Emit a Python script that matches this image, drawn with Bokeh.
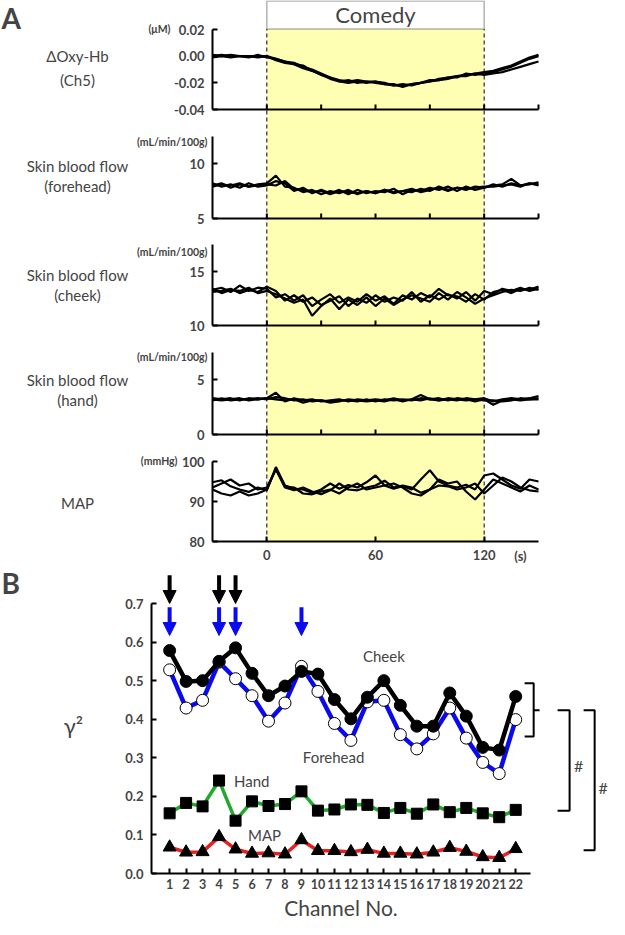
from bokeh.plotting import figure
from bokeh.models import (Range1d, LinearAxis, FixedTicker, NumeralTickFormatter,
                          BoxAnnotation, Label, Arrow, NormalHead, ColumnDataSource)
from bokeh.layouts import column
from bokeh.embed import file_html
from bokeh.resources import INLINE

# ---------------- data (panel A: time courses, 3 traces each) ----------------
time_s = list(range(-30, 151, 5))
comedy_start, comedy_end = 0, 120
time_ticks = [0, 30, 60, 90, 120, 150]
time_labels = [0, 60, 120]

oxy_hb_1 = [0.000, 0.001, 0.000, 0.000, -0.001, 0.001, -0.001, -0.002, -0.004, -0.005, -0.008, -0.010, -0.013,
            -0.016, -0.018, -0.019, -0.018, -0.019, -0.019, -0.020, -0.022, -0.022, -0.021, -0.020, -0.019,
            -0.017, -0.016, -0.015, -0.014, -0.013, -0.012, -0.011, -0.009, -0.007, -0.004, -0.001, 0.001]
oxy_hb_2 = [0.001, 0.000, 0.001, 0.000, 0.000, 0.000, 0.000, -0.003, -0.005, -0.006, -0.007, -0.011, -0.014,
            -0.017, -0.019, -0.018, -0.020, -0.019, -0.020, -0.021, -0.021, -0.023, -0.021, -0.020, -0.018,
            -0.018, -0.016, -0.016, -0.013, -0.014, -0.013, -0.012, -0.010, -0.008, -0.005, -0.002, 0.000]
oxy_hb_3 = [-0.001, 0.000, -0.001, 0.000, 0.000, -0.001, 0.000, -0.002, -0.004, -0.006, -0.009, -0.011, -0.014,
            -0.016, -0.019, -0.020, -0.019, -0.020, -0.019, -0.021, -0.022, -0.021, -0.022, -0.020, -0.019,
            -0.018, -0.017, -0.015, -0.015, -0.013, -0.014, -0.013, -0.012, -0.010, -0.008, -0.006, -0.004]

sbf_forehead_1 = [8.0, 8.2, 7.8, 8.1, 7.9, 8.1, 8.2, 8.9, 7.9, 7.8, 7.4, 7.6, 7.2, 7.5, 7.3, 7.6, 7.2, 7.5, 7.3,
                  7.6, 7.3, 7.5, 7.4, 7.7, 7.5, 7.9, 7.6, 7.8, 7.6, 7.9, 7.8, 8.0, 8.1, 8.6, 8.0, 8.2, 8.1]
sbf_forehead_2 = [8.2, 7.9, 8.1, 7.8, 8.2, 7.9, 8.0, 8.4, 8.2, 7.5, 7.8, 7.3, 7.6, 7.3, 7.6, 7.2, 7.6, 7.3, 7.5,
                  7.4, 7.7, 7.2, 7.6, 7.5, 7.8, 7.6, 7.9, 7.5, 7.9, 7.6, 7.8, 8.1, 7.9, 8.2, 8.0, 8.1, 8.3]
sbf_forehead_3 = [7.9, 8.1, 8.0, 8.2, 7.9, 8.0, 8.1, 8.0, 8.4, 7.7, 7.6, 7.4, 7.5, 7.2, 7.5, 7.4, 7.3, 7.5, 7.3,
                  7.6, 7.4, 7.5, 7.7, 7.4, 7.6, 7.8, 7.5, 7.8, 7.7, 7.8, 7.9, 7.9, 8.0, 8.1, 7.9, 8.2, 8.0]

sbf_cheek_1 = [13.3, 13.5, 13.1, 13.7, 13.2, 13.5, 13.4, 12.6, 12.9, 12.3, 12.8, 11.8, 12.4, 12.9, 12.1, 12.6,
               12.2, 12.9, 12.3, 12.7, 12.0, 12.8, 12.4, 13.0, 12.6, 13.4, 12.8, 12.7, 12.2, 12.9, 12.4, 13.1,
               13.3, 13.0, 13.4, 13.3, 13.6]
sbf_cheek_2 = [13.1, 13.2, 13.4, 13.0, 13.3, 13.1, 13.6, 13.2, 12.3, 12.8, 12.2, 12.6, 11.9, 12.3, 12.7, 11.8,
               12.5, 12.1, 12.8, 12.2, 12.6, 12.3, 13.1, 12.2, 12.8, 12.4, 12.9, 12.5, 13.1, 12.3, 13.2, 12.9,
               13.4, 13.2, 13.5, 13.2, 13.4]
sbf_cheek_3 = [13.4, 13.0, 13.3, 13.2, 13.5, 13.0, 13.2, 12.9, 12.5, 12.1, 12.4, 10.9, 11.8, 12.5, 11.5, 12.4,
               11.9, 12.6, 11.8, 12.5, 11.9, 12.4, 12.8, 12.5, 12.2, 13.0, 12.4, 13.1, 12.6, 12.0, 12.5, 12.8,
               13.1, 13.3, 13.2, 13.5, 13.3]

sbf_hand_1 = [3.3, 3.2, 3.3, 3.1, 3.3, 3.2, 3.3, 3.8, 3.0, 3.3, 3.1, 3.2, 3.0, 3.1, 3.2, 3.0, 3.2, 3.1, 3.2,
              3.1, 3.3, 3.1, 3.2, 3.6, 3.2, 3.1, 3.3, 3.2, 3.1, 3.2, 3.3, 3.0, 3.2, 3.3, 3.2, 3.3, 3.5]
sbf_hand_2 = [3.1, 3.3, 3.1, 3.2, 3.2, 3.3, 3.2, 3.4, 3.3, 3.1, 3.2, 3.0, 3.1, 3.0, 3.1, 3.1, 3.0, 3.2, 3.0,
              3.2, 3.1, 3.2, 3.1, 3.3, 3.2, 3.3, 3.1, 3.3, 3.2, 3.0, 3.2, 2.7, 3.1, 3.2, 3.1, 3.2, 3.2]
sbf_hand_3 = [3.2, 3.1, 3.2, 3.3, 3.1, 3.2, 3.3, 3.2, 3.1, 3.2, 2.9, 3.1, 3.1, 2.9, 3.0, 3.2, 3.1, 3.0, 3.1,
              3.0, 3.2, 3.0, 3.2, 3.1, 3.3, 3.1, 3.2, 3.1, 3.3, 3.2, 3.1, 3.1, 3.0, 3.1, 3.3, 3.2, 3.3]

map_1 = [94.8, 95.3, 93.8, 93.0, 92.4, 93.5, 92.8, 98.6, 94.0, 93.2, 93.0, 92.2, 93.0, 94.5, 93.2, 94.1, 93.5,
         94.8, 96.5, 94.0, 93.2, 93.8, 93.0, 95.5, 97.8, 95.0, 94.0, 93.5, 94.2, 93.0, 96.5, 97.0, 95.5, 94.0,
         93.2, 95.5, 95.0]
map_2 = [93.0, 92.0, 91.5, 92.5, 91.5, 92.0, 93.0, 98.2, 93.8, 93.5, 92.0, 91.8, 92.5, 93.0, 92.0, 93.5, 94.5,
         93.0, 93.5, 94.0, 94.5, 93.5, 92.0, 91.5, 93.0, 95.5, 94.5, 95.0, 92.5, 90.5, 93.0, 95.5, 94.5, 93.5,
         92.5, 94.0, 93.0]
map_3 = [93.5, 94.5, 95.5, 94.0, 94.5, 93.0, 93.5, 98.0, 93.5, 92.8, 93.5, 92.5, 91.8, 92.8, 94.5, 93.0, 92.8,
         93.5, 94.0, 95.2, 93.5, 94.0, 93.5, 92.2, 93.0, 94.0, 93.8, 93.0, 93.5, 94.5, 92.0, 94.0, 96.0, 95.0,
         93.5, 92.8, 92.5]

# ---------------- data (panel B: gamma^2 per channel) ----------------
channels = list(range(1, 23))
gamma_cheek = [0.578, 0.498, 0.500, 0.550, 0.585, 0.519, 0.461, 0.486, 0.524, 0.517, 0.451, 0.401, 0.457,
               0.500, 0.436, 0.382, 0.382, 0.468, 0.408, 0.327, 0.320, 0.459]
gamma_forehead = [0.528, 0.429, 0.449, 0.548, 0.505, 0.461, 0.395, 0.442, 0.537, 0.472, 0.389, 0.345, 0.445,
                  0.449, 0.360, 0.323, 0.362, 0.429, 0.351, 0.288, 0.259, 0.399]
gamma_hand = [0.156, 0.183, 0.174, 0.241, 0.137, 0.187, 0.175, 0.180, 0.213, 0.163, 0.166, 0.179, 0.178,
              0.157, 0.170, 0.155, 0.179, 0.159, 0.170, 0.156, 0.146, 0.165]
gamma_map = [0.068, 0.055, 0.056, 0.095, 0.063, 0.052, 0.053, 0.050, 0.087, 0.059, 0.059, 0.056, 0.062,
             0.052, 0.052, 0.050, 0.055, 0.067, 0.057, 0.043, 0.041, 0.064]
black_arrow_channels = [1, 4, 5]
blue_arrow_channels = [1, 4, 5, 9]
gamma_ticks = [0.0, 0.1, 0.2, 0.3, 0.4, 0.5, 0.6, 0.7]

# ---------------- layout / style ----------------
FONT = "Lato"
W = 609
A_FH = 566          # frame height of panel A (includes room for the time labels)
A_AX = 212.0        # px of t = -30
A_PPS = 326.0 / 180.0
xa0 = -30 - A_AX / A_PPS
xa1 = xa0 + W / A_PPS


def xa(px):
    return xa0 + px / A_PPS


def band(lo, hi, plo, phi):
    s = (hi - lo) / (plo - phi)
    return lo - (A_FH - plo) * s, hi + phi * s


panels = [
    dict(name="p1", lo=-0.04, hi=0.02, plo=109, phi=29, ticks=[-0.04, -0.02, 0.0, 0.02], fmt="0.00",
         traces=[oxy_hb_1, oxy_hb_2, oxy_hb_3], titles=[("\u0394Oxy-Hb", 55), ("(Ch5)", 79)],
         unit="(\u03bcM)", unit_px=(170, 28)),
    dict(name="p2", lo=5, hi=12.5, plo=218, phi=135.5, ticks=[5, 10], fmt=None,
         traces=[sbf_forehead_1, sbf_forehead_2, sbf_forehead_3],
         titles=[("Skin blood flow", 165), ("(forehead)", 185)], unit="(mL/min/100g)", unit_px=(207, 141)),
    dict(name="p3", lo=10, hi=17.5, plo=325, phi=244, ticks=[10, 15], fmt=None,
         traces=[sbf_cheek_1, sbf_cheek_2, sbf_cheek_3],
         titles=[("Skin blood flow", 274), ("(cheek)", 294)], unit="(mL/min/100g)", unit_px=(207, 251)),
    dict(name="p4", lo=0, hi=7.5, plo=434, phi=351.5, ticks=[0, 5], fmt=None,
         traces=[sbf_hand_1, sbf_hand_2, sbf_hand_3],
         titles=[("Skin blood flow", 379), ("(hand)", 399)], unit="(mL/min/100g)", unit_px=(207, 356)),
    dict(name="default", lo=80, hi=100, plo=541, phi=461, ticks=[80, 90, 100], fmt=None,
         traces=[map_1, map_2, map_3], titles=[("MAP", 502)], unit="(mmHg)", unit_px=(177, 460)),
]

p5s, p5e = band(80, 100, 541, 461)


def ya(py):
    return p5e - py * (p5e - p5s) / A_FH


pA = figure(frame_width=W, frame_height=A_FH, x_range=Range1d(xa0, xa1), y_range=Range1d(p5s, p5e),
            x_axis_location=None, y_axis_location=None, output_backend="svg", toolbar_location=None,
            min_border=0, outline_line_color=None)
pA.xgrid.visible = False
pA.ygrid.visible = False
pA.extra_y_ranges = {pp["name"]: Range1d(*band(pp["lo"], pp["hi"], pp["plo"], pp["phi"]))
                     for pp in panels if pp["name"] != "default"}

map_lo = panels[-1]["lo"]
band_top = ya(28.5)

# comedy period shading, dashed limits and the title box
pA.add_layout(BoxAnnotation(left=comedy_start, right=comedy_end, top=band_top, bottom=map_lo,
                            fill_color="#FFFFB4", fill_alpha=1.0, line_alpha=0, level="underlay"))
pA.segment(x0=[comedy_start, comedy_end], y0=[map_lo, map_lo], x1=[comedy_start, comedy_end],
           y1=[band_top, band_top], line_color="black", line_width=1, line_dash="4 3")
pA.add_layout(BoxAnnotation(left=comedy_start, right=comedy_end, top=ya(0.5), bottom=band_top,
                            fill_color="white", fill_alpha=1.0, line_color="black", line_width=1.5))
pA.add_layout(Label(x=(comedy_start + comedy_end) / 2, y=ya(14), text="Comedy", text_font=FONT,
                    text_font_size="22px", text_align="center", text_baseline="middle"))
pA.add_layout(Label(x=xa(1), y=ya(17), text="A", text_font=FONT, text_font_style="bold",
                    text_font_size="28px", text_align="left", text_baseline="middle"))

# time axis of the MAP panel (labelled)
ax5 = LinearAxis(fixed_location=map_lo, bounds=(time_s[0], time_s[-1]), ticker=FixedTicker(ticks=time_labels),
                 major_tick_in=5, major_tick_out=0, minor_tick_in=0, minor_tick_out=0, axis_line_width=2,
                 major_tick_line_width=2, major_label_text_font=FONT, major_label_text_font_style="bold",
                 major_label_text_font_size="13px", major_label_standoff=8)
pA.add_layout(ax5, "below")
pA.add_layout(Label(x=xa(520), y=ya(555), text="(s)", text_font=FONT, text_font_style="bold",
                    text_font_size="13px", text_align="center", text_baseline="middle"))

for pp in panels:
    name = pp["name"]
    for tr in pp["traces"]:
        pA.line(time_s, tr, y_range_name=name, line_color="black", line_width=2.2)
    yax = LinearAxis(y_range_name=name, fixed_location=time_s[0], bounds=(pp["lo"], pp["hi"]),
                     ticker=FixedTicker(ticks=pp["ticks"]), major_tick_in=5, major_tick_out=0,
                     minor_tick_in=0, minor_tick_out=0, axis_line_width=2, major_tick_line_width=2,
                     major_label_text_font=FONT, major_label_text_font_style="bold",
                     major_label_text_font_size="13px", major_label_standoff=8)
    if pp["fmt"]:
        yax.formatter = NumeralTickFormatter(format=pp["fmt"])
    pA.add_layout(yax, "left")
    if name != "default":
        # unlabelled time axis: base line with short inward ticks
        s = (pp["hi"] - pp["lo"]) / (pp["plo"] - pp["phi"])
        n = len(time_ticks)
        pA.segment(x0=[time_s[0]], y0=[pp["lo"]], x1=[time_s[-1]], y1=[pp["lo"]], y_range_name=name,
                   line_color="black", line_width=2)
        pA.segment(x0=time_ticks, y0=[pp["lo"]] * n, x1=time_ticks, y1=[pp["lo"] + 5 * s] * n,
                   y_range_name=name, line_color="black", line_width=2)
    for txt, py in pp["titles"]:
        pA.add_layout(Label(x=xa(77), y=ya(py), text=txt, text_font=FONT, text_font_size="15px",
                            text_align="center", text_baseline="middle"))
    ux, uy = pp["unit_px"]
    pA.add_layout(Label(x=xa(ux), y=ya(uy), text=pp["unit"], text_font=FONT, text_font_style="bold",
                        text_font_size="10.5px", text_align="right", text_baseline="middle"))

# ---------------- panel B ----------------
B_AX = 151.0
B_PPC = 16.48
B_TOP = 307        # px from frame top to gamma = 0
B_BELOW = 46       # room for channel labels and axis title
B_FH = B_TOP + B_BELOW
B_PPU = 385.7
xb0 = -0.1 - B_AX / B_PPC
xb1 = xb0 + W / B_PPC
yb1 = B_TOP / B_PPU
yb0 = -B_BELOW / B_PPU


def xb(px):
    return xb0 + px / B_PPC


def yb(py):
    return yb1 - py / B_PPU


pB = figure(frame_width=W, frame_height=B_FH, x_range=Range1d(xb0, xb1), y_range=Range1d(yb0, yb1),
            x_axis_location=None, y_axis_location=None, output_backend="svg", toolbar_location=None,
            min_border=0, outline_line_color=None)
pB.xgrid.visible = False
pB.ygrid.visible = False

bx = LinearAxis(fixed_location=0, bounds=(-0.1, 22.9), ticker=FixedTicker(ticks=channels),
                major_tick_in=5, major_tick_out=0, minor_tick_in=0, minor_tick_out=0, axis_line_width=2,
                major_tick_line_width=2, major_label_text_font=FONT, major_label_text_font_style="bold",
                major_label_text_font_size="12.5px", major_label_standoff=5,
                axis_label="Channel No.", axis_label_text_font=FONT, axis_label_text_font_style="normal",
                axis_label_text_font_size="21px", axis_label_standoff=3)
pB.add_layout(bx, "below")

by = LinearAxis(fixed_location=-0.1, bounds=(0, 0.7), ticker=FixedTicker(ticks=gamma_ticks),
                formatter=NumeralTickFormatter(format="0.0"), major_tick_in=5, major_tick_out=0,
                minor_tick_in=0, minor_tick_out=0, axis_line_width=2, major_tick_line_width=2,
                major_label_text_font=FONT, major_label_text_font_style="bold",
                major_label_text_font_size="13px", major_label_standoff=8)
pB.add_layout(by, "left")

pB.line(channels, gamma_map, line_color="#E82020", line_width=3.5)
pB.scatter(channels, gamma_map, marker="triangle", size=13, fill_color="black", line_color="black")
pB.line(channels, gamma_hand, line_color="#22A82A", line_width=3.5)
pB.scatter(channels, gamma_hand, marker="square", size=11, fill_color="black", line_color="black")
pB.line(channels, gamma_forehead, line_color="#0A0AF0", line_width=4.5)
pB.scatter(channels, gamma_forehead, marker="circle", size=12, fill_color="white", line_color="black",
           line_width=1)
pB.line(channels, gamma_cheek, line_color="black", line_width=4.5)
pB.scatter(channels, gamma_cheek, marker="circle", size=12, fill_color="black", line_color="black")

# significance arrows
for chs, (ys, ye), col in ((black_arrow_channels, (0.773, 0.700), "black"),
                           (blue_arrow_channels, (0.690, 0.617), "#0A0AF0")):
    src = ColumnDataSource(dict(x=chs, ys=[ys] * len(chs), ye=[ye] * len(chs)))
    pB.add_layout(Arrow(end=NormalHead(size=13, fill_color=col, line_color=col, line_width=1),
                        x_start="x", y_start="ys", x_end="x", y_end="ye", source=src,
                        line_color=col, line_width=4))

# series labels
for txt, x, y in (("Cheek", 14.0, 0.565), ("Forehead", 10.95, 0.303), ("Hand", 5.98, 0.241),
                  ("MAP", 6.76, 0.101)):
    pB.add_layout(Label(x=x, y=y, text=txt, text_font=FONT, text_font_size="15px", text_align="center",
                        text_baseline="middle"))

# brackets
pB.multi_line(xs=[[22.54, 23.09, 23.09, 22.54], [23.09, 23.45],
                  [24.54, 25.27, 25.27, 24.54], [26.12, 26.79, 26.79, 26.12]],
              ys=[[0.493, 0.493, 0.355, 0.355], [0.423, 0.423],
                  [0.423, 0.423, 0.163, 0.163], [0.423, 0.423, 0.060, 0.060]],
              line_color="black", line_width=2)
for x, y in ((25.82, 0.28), (27.3, 0.223)):
    pB.add_layout(Label(x=x, y=y, text="#", text_font=FONT, text_font_size="16px", text_align="center",
                        text_baseline="middle"))

pB.add_layout(Label(x=xb(1), y=yb(16), text="B", text_font=FONT, text_font_style="bold",
                    text_font_size="28px", text_align="left", text_baseline="middle"))
pB.add_layout(Label(x=xb(73), y=0.384, text="\u03b3\u00b2", text_font=FONT, text_font_size="22px",
                    text_align="center", text_baseline="middle"))

layout = column(pA, pB, spacing=0)
open("out.html", "w").write(file_html(layout, INLINE))
